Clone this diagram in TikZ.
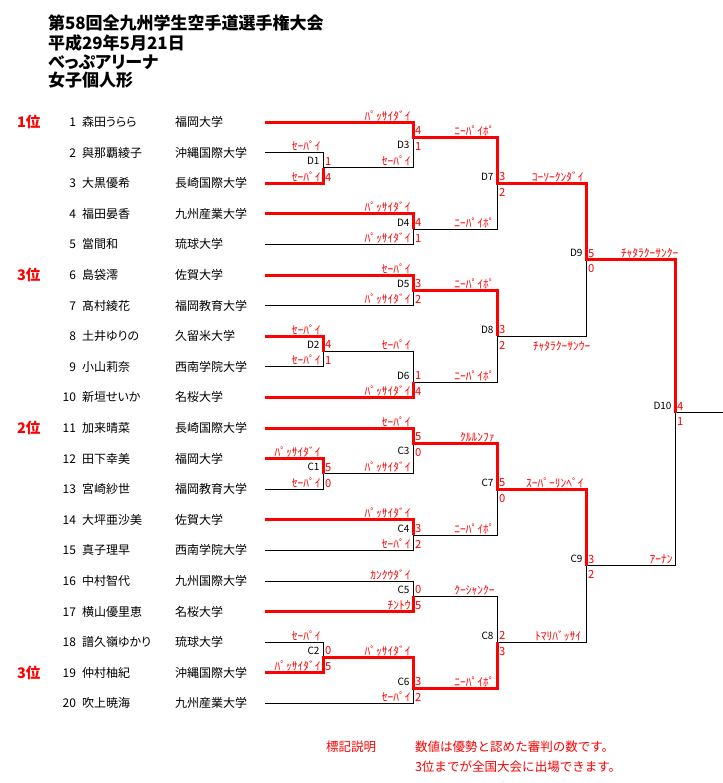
\documentclass[tikz,border=0pt]{standalone}
\usepackage{fontspec}
\setmainfont{Noto Sans CJK JP}
\newfontfamily\pfont{Noto Sans CJK JP}[RawFeature=+palt]
\usetikzlibrary{calc}
\definecolor{rd}{RGB}{255,0,0}
\begin{document}
\begin{tikzpicture}[x=0.75pt,y=-0.75pt,
  every node/.style={inner sep=0pt, outer sep=0pt},
  blk/.style={draw=black, line width=0.75pt},
  win/.style={draw=rd, line width=2.25pt},
  hdr/.style={anchor=base west, font=\pfont\bfseries\fontsize{12.75}{14}\selectfont},
  pnum/.style={anchor=base east, font=\fontsize{9}{10}\selectfont},
  pname/.style={anchor=base west, font=\pfont\fontsize{9}{10}\selectfont},
  rank/.style={anchor=base west, text=rd, font=\bfseries\fontsize{10.9}{12}\selectfont},
  kata/.style={anchor=base east, text=rd, font=\fontsize{8.6}{9}\selectfont},
  katal/.style={anchor=base west, text=rd, font=\fontsize{8.6}{9}\selectfont},
  score/.style={anchor=base west, text=rd, font=\fontsize{8.4}{9}\selectfont},
  mlab/.style={anchor=base east, font=\fontsize{7.5}{8}\selectfont},
  note/.style={anchor=base west, text=rd, font=\fontsize{9.4}{11}\selectfont}
]
\path[fill=white,use as bounding box] (0,0) rectangle (723,783);

% header
\node[hdr] (h1) at (48,29.5) {第58回全九州学生空手道選手権大会};
\node[hdr] (h2) at (48,49.5) {平成29年5月21日};
\node[hdr] (h3) at (48,68.5) {べっぷアリーナ};
\node[hdr] (h4) at (48,86.5) {女子個人形};

% players
\foreach \k/\nm/\un in {1/森田うらら/福岡大学, 2/與那覇綾子/沖縄国際大学, 3/大黒優希/長崎国際大学,
  4/福田晏香/九州産業大学, 5/當間和/琉球大学, 6/島袋澪/佐賀大学, 7/髙村綾花/福岡教育大学,
  8/土井ゆりの/久留米大学, 9/小山莉奈/西南学院大学, 10/新垣せいか/名桜大学,
  11/加来晴菜/長崎国際大学, 12/田下幸美/福岡大学, 13/宮崎紗世/福岡教育大学,
  14/大坪亜沙美/佐賀大学, 15/真子理早/西南学院大学, 16/中村智代/九州国際大学,
  17/横山優里恵/名桜大学, 18/譜久嶺ゆかり/琉球大学, 19/仲村柚紀/沖縄国際大学,
  20/吹上暁海/九州産業大学} {
  \pgfmathsetmacro\yy{122+30.6*(\k-1)}
  \coordinate (p\k) at (265,\yy);
  \node[pnum] (n\k) at (76,{\yy+4.5}) {\k};
  \node[pname] (nm\k) at (82,{\yy+4.5}) {\nm};
  \node[pname] (u\k) at (175,{\yy+4.5}) {\un};
}

% ranks
\node[rank] (r1) at (17,127.5) {1位};
\node[rank] (r3a) at (17,280.5) {3位};
\node[rank] (r2) at (17,433.5) {2位};
\node[rank] (r3b) at (17,678.3) {3位};

% match points (vertical x, output y)
\coordinate (D1) at (323,167.9);
\coordinate (D3) at (413,137.3);
\coordinate (D4) at (413,229.1);
\coordinate (D7) at (497,183.2);
\coordinate (D5) at (413,290.3);
\coordinate (D2) at (323,351.5);
\coordinate (D6) at (413,382.1);
\coordinate (D8) at (497,336.2);
\coordinate (D9) at (586,259.7);
\coordinate (C1) at (323,473.9);
\coordinate (C3) at (413,443.3);
\coordinate (C4) at (413,535.1);
\coordinate (C7) at (497,489.2);
\coordinate (C5) at (413,596.3);
\coordinate (C2) at (323,657.5);
\coordinate (C6) at (413,688.1);
\coordinate (C8) at (497,642.2);
\coordinate (C9) at (586,565.7);
\coordinate (D10) at (675,412.7);
\coordinate (fin) at (723,412.7);

% black bracket
\foreach \a/\b in {p2/D1,p3/D1,p1/D3,D1/D3,p4/D4,p5/D4,D3/D7,D4/D7,
  p6/D5,p7/D5,p8/D2,p9/D2,D2/D6,p10/D6,D5/D8,D6/D8,D7/D9,D8/D9,
  p12/C1,p13/C1,p11/C3,C1/C3,p14/C4,p15/C4,C3/C7,C4/C7,
  p16/C5,p17/C5,p18/C2,p19/C2,C2/C6,p20/C6,C5/C8,C6/C8,C7/C9,C8/C9,
  D9/D10,C9/D10} {
  \draw[blk] (\a) -| (\b);
}
\draw[blk] (D10) -- (fin);

% winners in red
\draw[win] (p1) -| (D3) -| (D7) -| (D9) -| (D10);
\draw[win] (p3) -| (D1);
\draw[win] (p4) -| (D4);
\draw[win] (p6) -| (D5) -| (D8);
\draw[win] (p8) -| (D2);
\draw[win] (p10) -| (D6);
\draw[win] (p12) -| (C1);
\draw[win] (p11) -| (C3) -| (C7) -| (C9);
\draw[win] (p14) -| (C4);
\draw[win] (p17) -| (C5);
\draw[win] (p19) -| (C2) -| (C6) -| (C8);

% scores and match names
\foreach \m/\a/\b/\ly in {D1/1/4/-3,D3/4/1/11.5,D4/4/1/-3,D7/3/2/-3,D5/3/2/-3,D2/4/1/-3,
  D6/1/4/-3,D8/3/2/-3,D9/5/0/-3,D10/4/1/-3,C1/5/0/-3,C3/5/0/11.5,C4/3/2/-3,C7/5/0/-3,
  C5/0/5/-3,C2/0/5/-3,C6/3/2/-3,C8/2/3/-3,C9/3/2/-3} {
  \node[score] at ($(\m)+(2,-2.6)$) {\a};
  \node[score] at ($(\m)+(2,13.2)$) {\b};
  \node[mlab] at ($(\m)+(-3.5,\ly)$) {\m};
}

% kata names on the lines
\foreach \s/\d/\t in {p1/D3/ﾊﾟｯｻｲﾀﾞｲ, p2/D1/ｾｰﾊﾟｲ, p3/D1/ｾｰﾊﾟｲ, D1/D3/ｾｰﾊﾟｲ,
  p4/D4/ﾊﾟｯｻｲﾀﾞｲ, p5/D4/ﾊﾟｯｻｲﾀﾞｲ, D3/D7/ﾆｰﾊﾟｲﾎﾟ, D4/D7/ﾆｰﾊﾟｲﾎﾟ, D7/D9/ｺｰｿｰｸﾝﾀﾞｲ,
  p6/D5/ｾｰﾊﾟｲ, p7/D5/ﾊﾟｯｻｲﾀﾞｲ, p8/D2/ｾｰﾊﾟｲ, p9/D2/ｾｰﾊﾟｲ, D2/D6/ｾｰﾊﾟｲ,
  p10/D6/ﾊﾟｯｻｲﾀﾞｲ, D5/D8/ﾆｰﾊﾟｲﾎﾟ, D6/D8/ﾆｰﾊﾟｲﾎﾟ,
  p11/C3/ｾｰﾊﾟｲ, p12/C1/ﾊﾟｯｻｲﾀﾞｲ, p13/C1/ｾｰﾊﾟｲ, C1/C3/ﾊﾟｯｻｲﾀﾞｲ,
  p14/C4/ﾊﾟｯｻｲﾀﾞｲ, p15/C4/ｾｰﾊﾟｲ, C3/C7/ｸﾙﾙﾝﾌｧ, C4/C7/ﾆｰﾊﾟｲﾎﾟ, C7/C9/ｽｰﾊﾟｰﾘﾝﾍﾟｲ,
  C9/D10/ｱｰﾅﾝ, p16/C5/ｶﾝｸｳﾀﾞｲ, p17/C5/ﾁﾝﾄｳ, p18/C2/ｾｰﾊﾟｲ, p19/C2/ﾊﾟｯｻｲﾀﾞｲ,
  C2/C6/ﾊﾟｯｻｲﾀﾞｲ, p20/C6/ｾｰﾊﾟｲ, C5/C8/ｸｰｼｬﾝｸｰ, C6/C8/ﾆｰﾊﾟｲﾎﾟ} {
  \node[kata] at ($(\d |- \s)+(-2.5,-2)$) {\t};
}
\node[kata] at ($(C9 |- C8)+(-5,-2)$) {ﾄﾏﾘﾊﾞｯｻｲ};
\node[katal] at ($(D9)+(35,-2)$) {ﾁｬﾀﾗｸｰｻﾝｸｰ};
\node[katal] at ($(D8)+(36,14)$) {ﾁｬﾀﾗｸｰｻﾝｳｰ};

% legend
\node[note] (leg) at (326,751.8) {標記説明};
\node[note] (l1) at (415,751.8) {数値は優勢と認めた審判の数です。};
\node[note] (l2) at (415,771.8) {3位までが全国大会に出場できます。};
\end{tikzpicture}
\end{document}
